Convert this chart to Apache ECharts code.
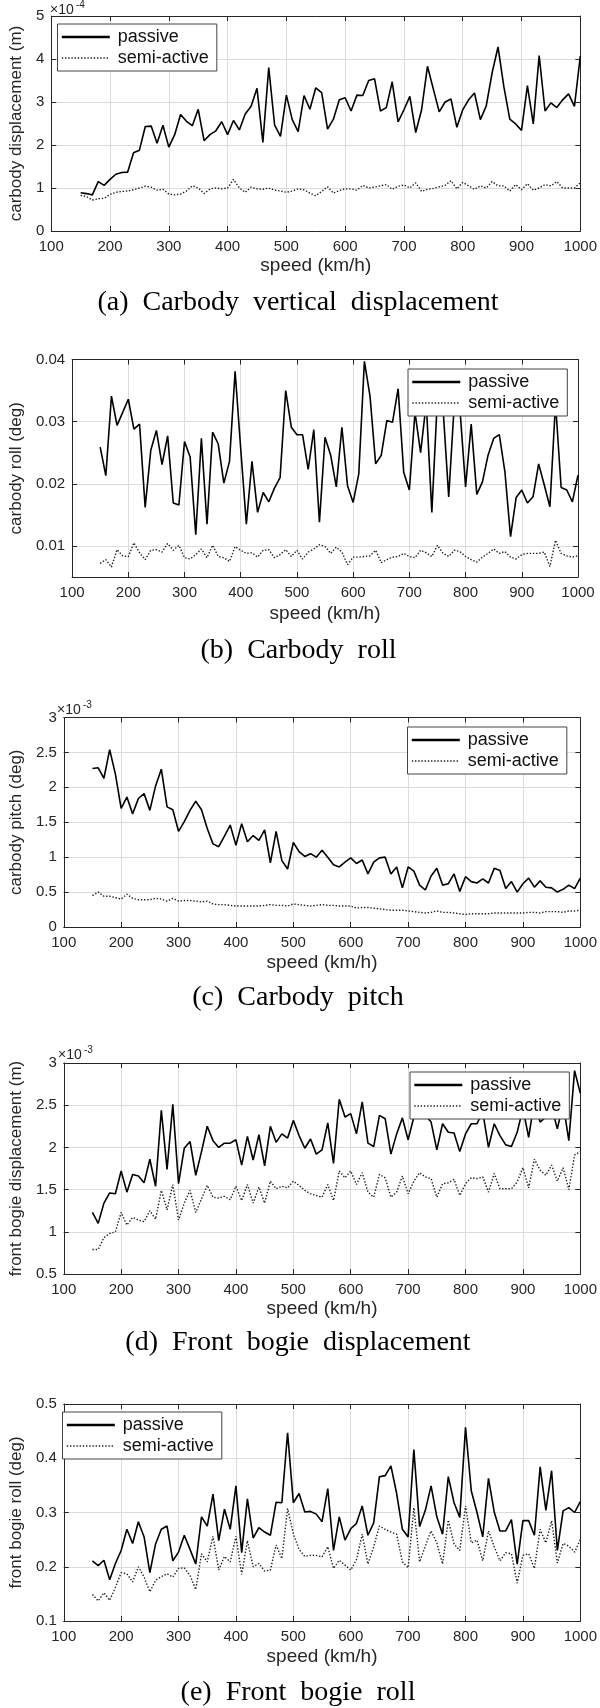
<!DOCTYPE html>
<html>
<head>
<meta charset="utf-8">
<script src="https://cdn.jsdelivr.net/npm/echarts@6/dist/echarts.min.js"></script>
<style>
html,body{margin:0;padding:0;background:#fff;}
#chart{width:600px;height:1708px;}
</style>
</head>
<body>
<div id="chart"></div>
<script>
// ---------- data ----------
const speeds = [150,160,170,180,190,200,210,220,230,240,250,260,270,280,290,300,310,320,330,340,
  350,360,370,380,390,400,410,420,430,440,450,460,470,480,490,500,510,520,530,540,
  550,560,570,580,590,600,610,620,630,640,650,660,670,680,690,700,710,720,730,740,
  750,760,770,780,790,800,810,820,830,840,850,860,870,880,890,900,910,920,930,940,
  950,960,970,980,990,1000];

const xTicks = [100,200,300,400,500,600,700,800,900,1000];

// (a) carbody vertical displacement, x1e-4 m
const aPassive = [0.89,0.87,0.84,1.15,1.06,1.2,1.32,1.36,1.37,1.82,
  1.88,2.43,2.44,2.04,2.46,1.95,2.24,2.71,2.55,2.45,
  2.83,2.1,2.24,2.33,2.54,2.24,2.57,2.35,2.72,2.9,
  3.32,2.06,3.8,2.46,2.2,3.16,2.59,2.31,3.15,2.83,
  3.33,3.22,2.37,2.6,3.05,3.1,2.79,3.16,3.15,3.5,
  3.54,2.79,2.87,3.47,2.54,2.82,3.13,2.29,2.82,3.83,
  3.3,2.77,3.0,3.07,2.41,2.82,3.05,3.21,2.59,2.91,
  3.68,4.28,3.35,2.6,2.49,2.34,3.38,2.49,4.08,2.79,
  2.98,2.87,3.05,3.19,2.9,4.07];
const aSemi = [0.83,0.8,0.72,0.75,0.76,0.85,0.9,0.92,0.93,0.96,
  1.0,1.04,1.02,0.95,0.97,0.86,0.84,0.86,0.93,1.05,
  1.0,0.87,0.98,1.0,0.98,1.0,1.2,1.0,0.9,1.02,
  0.98,0.97,1.0,0.95,0.93,0.9,0.93,0.98,0.96,0.88,
  0.82,0.92,1.03,0.88,0.94,0.98,0.98,0.95,1.06,1.0,
  1.02,1.05,1.08,0.97,1.04,1.07,1.0,1.12,0.92,0.97,
  0.99,1.03,1.06,1.17,0.98,1.13,1.05,0.97,1.05,1.0,
  1.15,1.05,1.05,0.93,1.08,0.96,1.1,0.95,1.0,1.08,
  1.05,1.15,1.0,1.0,1.0,1.12];
const aTicks = [0,1,2,3,4,5];

// (b) carbody roll, deg
const bPassive = [0.0259,0.0213,0.0341,0.0294,0.0315,0.0336,0.0288,0.0296,0.0162,0.0254,
  0.0286,0.0231,0.0277,0.0169,0.0166,0.0268,0.0243,0.0118,0.0273,0.0135,
  0.0283,0.0264,0.0201,0.0236,0.0381,0.0256,0.0135,0.0236,0.0154,0.0186,
  0.0171,0.0193,0.0210,0.0350,0.0291,0.0279,0.0279,0.0223,0.0287,0.0138,
  0.0275,0.0246,0.0195,0.0291,0.0197,0.0170,0.0216,0.0397,0.0341,0.0232,
  0.0246,0.0302,0.0299,0.0353,0.0218,0.0190,0.0315,0.0250,0.0330,0.0154,
  0.0340,0.0320,0.0179,0.0330,0.0320,0.0195,0.0296,0.0183,0.0203,0.0246,
  0.0273,0.0279,0.0219,0.0115,0.0178,0.0190,0.0169,0.0179,0.0232,0.0198,
  0.0163,0.0330,0.0194,0.0190,0.0171,0.0214];
const bSemi = [0.0072,0.0078,0.0066,0.0094,0.0084,0.0083,0.0105,0.0089,0.0078,0.0093,
  0.0094,0.0090,0.0104,0.0093,0.0101,0.0081,0.0079,0.0086,0.0095,0.0081,
  0.0101,0.0083,0.0081,0.0075,0.0099,0.0093,0.0088,0.0089,0.0082,0.0093,
  0.0094,0.0081,0.0086,0.0094,0.0083,0.0093,0.0079,0.0090,0.0095,0.0102,
  0.0099,0.0088,0.0098,0.0090,0.0070,0.0082,0.0082,0.0083,0.0084,0.0093,
  0.0073,0.0078,0.0082,0.0083,0.0088,0.0083,0.0081,0.0093,0.0089,0.0083,
  0.0101,0.0088,0.0083,0.0093,0.0091,0.0083,0.0078,0.0074,0.0082,0.0088,
  0.0095,0.0088,0.0091,0.0082,0.0079,0.0086,0.0088,0.0088,0.0088,0.0090,
  0.0067,0.0109,0.0088,0.0084,0.0082,0.0084];
const bTicks = [0.01,0.02,0.03,0.04];

// (c) carbody pitch, x1e-3 deg
const cPassive = [2.27,2.28,2.13,2.54,2.19,1.70,1.86,1.62,1.84,1.91,
  1.67,2.02,2.26,1.72,1.68,1.37,1.51,1.67,1.80,1.68,
  1.41,1.19,1.15,1.30,1.46,1.17,1.48,1.22,1.31,1.24,
  1.39,0.92,1.37,0.95,0.83,1.21,1.08,1.01,1.05,1.00,
  1.10,1.00,0.89,0.86,0.93,0.99,0.91,0.96,0.76,0.93,
  0.99,1.00,0.76,0.86,0.56,0.86,0.80,0.60,0.53,0.73,
  0.84,0.60,0.62,0.76,0.51,0.72,0.65,0.63,0.69,0.63,
  0.84,0.81,0.55,0.65,0.50,0.62,0.70,0.57,0.66,0.57,
  0.56,0.50,0.54,0.60,0.55,0.70];
const cSemi = [0.45,0.50,0.44,0.44,0.42,0.40,0.47,0.41,0.39,0.39,
  0.39,0.41,0.40,0.37,0.41,0.37,0.38,0.38,0.37,0.36,
  0.37,0.33,0.32,0.32,0.31,0.30,0.30,0.30,0.30,0.30,
  0.31,0.32,0.31,0.31,0.30,0.33,0.32,0.31,0.30,0.31,
  0.32,0.31,0.31,0.30,0.30,0.30,0.27,0.28,0.28,0.27,
  0.26,0.25,0.24,0.24,0.24,0.23,0.22,0.21,0.20,0.21,
  0.23,0.21,0.21,0.20,0.19,0.18,0.19,0.19,0.19,0.19,
  0.20,0.20,0.20,0.20,0.20,0.20,0.21,0.21,0.20,0.22,
  0.22,0.22,0.21,0.23,0.23,0.24];
const cTicks = [0,0.5,1,1.5,2,2.5,3];

// (d) front bogie displacement, x1e-3 m
const dPassive = [1.23,1.10,1.34,1.46,1.45,1.72,1.47,1.68,1.66,1.58,
  1.86,1.54,2.44,1.74,2.51,1.57,1.99,2.07,1.67,1.95,
  2.25,2.08,2.00,2.05,2.05,2.09,1.79,2.13,1.85,2.15,
  1.78,2.25,2.06,2.16,2.11,2.32,2.14,1.99,2.10,1.92,
  1.97,2.29,1.81,2.57,2.36,2.40,2.16,2.54,2.05,2.01,
  2.38,2.34,1.92,2.16,2.35,2.09,2.36,2.45,2.38,2.30,
  1.97,2.28,2.18,2.17,1.95,2.16,2.28,2.28,2.42,2.00,
  2.28,2.14,2.03,2.01,2.18,2.46,2.12,2.55,2.30,2.36,
  2.48,2.22,2.52,2.08,2.91,2.64];
const dSemi = [0.79,0.79,0.93,0.98,1.00,1.23,1.08,1.17,1.14,1.12,
  1.25,1.15,1.49,1.26,1.56,1.14,1.34,1.49,1.23,1.39,
  1.55,1.41,1.40,1.42,1.38,1.54,1.37,1.56,1.34,1.53,
  1.34,1.60,1.51,1.54,1.52,1.60,1.55,1.49,1.45,1.43,
  1.41,1.56,1.37,1.72,1.64,1.72,1.56,1.70,1.47,1.41,
  1.68,1.64,1.41,1.47,1.66,1.45,1.60,1.70,1.65,1.63,
  1.41,1.57,1.58,1.62,1.43,1.57,1.64,1.63,1.65,1.47,
  1.69,1.51,1.51,1.51,1.59,1.76,1.52,1.86,1.73,1.67,
  1.79,1.60,1.76,1.50,1.91,1.95];
const dTicks = [0.5,1,1.5,2,2.5,3];

// (e) front bogie roll, deg
const ePassive = [0.211,0.202,0.212,0.176,0.206,0.230,0.269,0.243,0.283,0.255,
  0.189,0.242,0.269,0.275,0.211,0.227,0.258,0.232,0.205,0.292,
  0.275,0.334,0.248,0.306,0.269,0.349,0.226,0.325,0.253,0.272,
  0.264,0.258,0.319,0.318,0.447,0.318,0.335,0.301,0.302,0.297,
  0.283,0.344,0.230,0.292,0.249,0.270,0.280,0.312,0.258,0.281,
  0.366,0.368,0.386,0.335,0.269,0.255,0.416,0.274,0.304,0.349,
  0.292,0.260,0.366,0.318,0.291,0.457,0.340,0.300,0.255,0.363,
  0.301,0.266,0.266,0.287,0.205,0.285,0.285,0.258,0.384,0.304,
  0.377,0.230,0.303,0.309,0.300,0.320];
const eSemi = [0.149,0.137,0.152,0.138,0.162,0.189,0.187,0.172,0.200,0.181,
  0.154,0.175,0.182,0.187,0.181,0.197,0.198,0.184,0.158,0.224,
  0.209,0.256,0.194,0.219,0.209,0.256,0.186,0.248,0.200,0.206,
  0.192,0.194,0.240,0.215,0.307,0.261,0.232,0.219,0.221,0.221,
  0.218,0.237,0.197,0.212,0.203,0.194,0.213,0.260,0.205,0.237,
  0.275,0.269,0.264,0.260,0.209,0.198,0.309,0.209,0.238,0.266,
  0.244,0.205,0.286,0.242,0.230,0.312,0.244,0.249,0.211,0.266,
  0.237,0.211,0.226,0.224,0.170,0.221,0.224,0.197,0.269,0.244,
  0.285,0.207,0.243,0.238,0.227,0.250];
const eTicks = [0.1,0.2,0.3,0.4,0.5];

const seriesNames = ['passive','semi-active'];
const yNames = ['carbody displacement (m)','carbody roll (deg)','carbody pitch (deg)',
  'front bogie displacement (m)','front bogie roll (deg)'];
const xName = 'speed (km/h)';
const captions = ['(a)  Carbody  vertical  displacement','(b)  Carbody  roll','(c)  Carbody  pitch',
  '(d)  Front  bogie  displacement','(e)  Front  bogie  roll'];

// ---------- layout ----------
const SANS = "'Liberation Sans', Arial, Helvetica, sans-serif";
const SERIF = "'Liberation Serif', 'Times New Roman', serif";
const INK = '#262626';
const GRIDC = '#dcdcdc';
const DOT = [1.4, 1.8];

const panels = [
  {grid:{left:48.5, top:16, width:532, height:215}, ticks:aTicks, yMin:0, yMax:5, step:1,
   nameGap:21, xGap:25, legend:{left:57.5, top:24}, p:aPassive, s:aSemi,
   cap:{x:298, y:302.5}, exp:{x:50, y:10.5, t:'-4'}},
  {grid:{left:67, top:359.5, width:511, height:217.5}, ticks:bTicks, yMin:0.005, yMax:0.04, step:0.005,
   nameGap:41, xGap:27, legend:{left:408, top:369}, p:bPassive, s:bSemi,
   cap:{x:298.5, y:650.5}},
  {grid:{left:55, top:717.5, width:526.5, height:209.5}, ticks:cTicks, yMin:0, yMax:3, step:0.5,
   nameGap:34, xGap:26, legend:{left:407.5, top:727}, p:cPassive, s:cSemi,
   cap:{x:298, y:997.5}, exp:{x:57, y:710, t:'-3'}},
  {grid:{left:57.5, top:1063, width:526, height:211}, ticks:dTicks, yMin:0.5, yMax:3, step:0.5,
   nameGap:36, xGap:25, legend:{left:410, top:1072}, p:dPassive, s:dSemi,
   cap:{x:298, y:1342.5}, exp:{x:58, y:1055.5, t:'-3'}},
  {grid:{left:56.4, top:1404, width:527, height:217}, ticks:eTicks, yMin:0.1, yMax:0.5, step:0.1,
   nameGap:35, xGap:26, legend:{left:62.5, top:1412}, p:ePassive, s:eSemi,
   cap:{x:298, y:1693}}
];

function pairs(ys){ return speeds.map((s,i)=>[s, ys[i]]); }

const option = {
  animation:false,
  backgroundColor:'#fff',
  grid:[], xAxis:[], yAxis:[], series:[], legend:[], graphic:[]
};

panels.forEach((P, k) => {
  option.grid.push(Object.assign({show:false, containLabel:false}, P.grid));
  const xBase = {
    type:'value', gridIndex:k, min:100, max:1000, interval:100,
    axisLine:{show:true, onZero:false, lineStyle:{color:INK, width:1}},
    axisTick:{show:true, inside:true, length:5, lineStyle:{color:INK}},
  };
  option.xAxis.push(Object.assign({}, xBase, {
    position:'bottom', name:xName, nameLocation:'middle', nameGap:P.xGap,
    nameTextStyle:{fontFamily:SANS, fontSize:19, color:INK},
    axisLabel:{show:true, margin:8, fontFamily:SANS, fontSize:15, color:INK,
      customValues:xTicks, formatter:(v)=>String(v)},
    splitLine:{show:true, lineStyle:{color:GRIDC, width:1}}
  }));
  option.xAxis.push(Object.assign({}, xBase, {
    position:'top', axisLabel:{show:false}, splitLine:{show:false}
  }));
  const yBase = {
    type:'value', gridIndex:k, min:P.yMin, max:P.yMax, interval:P.step,
    axisLine:{show:true, onZero:false, lineStyle:{color:INK, width:1}},
    axisTick:{show:true, inside:true, length:5, lineStyle:{color:INK}, customValues:P.ticks},
  };
  option.yAxis.push(Object.assign({}, yBase, {
    position:'left', name:yNames[k], nameLocation:'middle', nameGap:P.nameGap,
    nameTextStyle:{fontFamily:SANS, fontSize:17, color:INK},
    axisLabel:{show:true, margin:7, fontFamily:SANS, fontSize:15, color:INK,
      customValues:P.ticks, formatter:(v)=>String(+v.toFixed(4))},
    splitLine:{show:true, lineStyle:{color:GRIDC, width:1}}
  }));
  option.yAxis.push(Object.assign({}, yBase, {
    position:'right', axisLabel:{show:false}, splitLine:{show:false}
  }));

  option.series.push({
    type:'line', name:seriesNames[0], xAxisIndex:2*k, yAxisIndex:2*k,
    data:pairs(P.p), symbol:'none', showSymbol:false, clip:true, z:3,
    lineStyle:{color:'#000', width:1.6, type:'solid'}, itemStyle:{color:'#000'}
  });
  option.series.push({
    type:'line', name:seriesNames[1], xAxisIndex:2*k, yAxisIndex:2*k,
    data:pairs(P.s), symbol:'none', showSymbol:false, clip:true, z:2,
    lineStyle:{color:'#1e1e1e', width:1.4, type:DOT}, itemStyle:{color:'#1e1e1e'}
  });

  option.legend.push({
    show:true, orient:'vertical', left:P.legend.left, top:P.legend.top,
    data:[
      {name:seriesNames[0], lineStyle:{width:2.6, color:'#000', type:'solid'}},
      {name:seriesNames[1], lineStyle:{width:1.4, color:'#1e1e1e', type:DOT}}
    ],
    selectedMode:false,
    backgroundColor:'#fff', borderColor:'#444', borderWidth:1, borderRadius:0,
    padding:[4,8,4,3], itemGap:3, itemWidth:48, itemHeight:14,
    itemStyle:{color:'rgba(0,0,0,0)', borderColor:'rgba(0,0,0,0)', borderWidth:0, opacity:0},
    textStyle:{fontFamily:SANS, fontSize:18, color:'#111', padding:[0,0,0,3]},
    z:10
  });

  option.graphic.push({
    type:'text', x:P.cap.x, y:P.cap.y, silent:true,
    style:{text:captions[k], fontFamily:SERIF, fontSize:28, fill:'#000',
      align:'center', verticalAlign:'middle'}
  });
  if (P.exp) {
    option.graphic.push({
      type:'text', x:P.exp.x, y:P.exp.y, silent:true,
      style:{text:'\u00d710', fontFamily:SANS, fontSize:14, fill:INK,
        align:'left', verticalAlign:'middle'}
    });
    option.graphic.push({
      type:'text', x:P.exp.x + 26, y:P.exp.y - 5, silent:true,
      style:{text:P.exp.t, fontFamily:SANS, fontSize:10, fill:INK,
        align:'left', verticalAlign:'middle'}
    });
  }
});

const chart = echarts.init(document.getElementById('chart'), null, {renderer:'canvas'});
chart.setOption(option);
</script>
</body>
</html>
